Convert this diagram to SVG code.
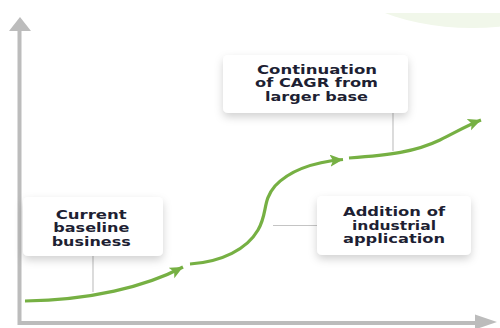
<svg xmlns="http://www.w3.org/2000/svg" width="500" height="328" viewBox="0 0 500 328">
  <defs>
    <style>
      .axis { stroke: #bcbcbc; stroke-width: 4; fill: none; }
      .axis-head { fill: #bcbcbc; }
      .curve { stroke: #76b043; stroke-width: 3.2; fill: none; stroke-linecap: butt; }
      .leader { stroke: #c4c4c4; stroke-width: 1.2; fill: none; }
      .card { fill: #ffffff; filter: url(#cardShadow); }
      .label { font-family: "DejaVu Sans", "Liberation Sans", sans-serif; font-weight: bold; font-size: 12px; fill: #1e1f33; text-anchor: middle; }
    </style>
    <filter id="cardShadow" x="-20%" y="-30%" width="140%" height="170%">
      <feDropShadow dx="0" dy="4" stdDeviation="4" flood-color="#000000" flood-opacity="0.18"/>
    </filter>
    <marker id="greenHead" markerUnits="userSpaceOnUse" markerWidth="16" markerHeight="14" refX="13" refY="6" orient="auto">
      <path d="M0,0 L13,6 L0,12 L3,6 Z" fill="#76b043"/>
    </marker>
    <clipPath id="topClip">
      <rect x="0" y="13" width="500" height="40"/>
    </clipPath>
  </defs>

  <rect width="500" height="328" fill="#ffffff"/>

  <!-- pale backdrop disc at the top right -->
  <ellipse cx="472" cy="-40" rx="139" ry="68" fill="#f1f7ea" clip-path="url(#topClip)"/>

  <!-- axes -->
  <g id="axes">
    <path class="axis" d="M19.5,30 L19.5,323 L476,323"/>
    <polygon class="axis-head" points="20,17 31,31 9,31"/>
    <polygon class="axis-head" points="497,322 475,314.5 475,329.5"/>
  </g>

  <!-- growth curve in three stages -->
  <g id="growth-curve">
    <path class="curve" d="M25,301 C90,300 145,287 183,267" marker-end="url(#greenHead)"/>
    <path class="curve" d="M190,264 C222,262 247,249 258,230 C268,213 262,201 275,186 C290,170 315,162 343,159.5" marker-end="url(#greenHead)"/>
    <path class="curve" d="M349,158 C390,155 415,152 440,140 C458,131 468,125 481,120" marker-end="url(#greenHead)"/>
  </g>

  <!-- leader lines from cards to the curve -->
  <g id="connectors">
    <line class="leader" x1="93" y1="256" x2="93" y2="292"/>
    <line class="leader" x1="393" y1="113" x2="393" y2="151"/>
    <line class="leader" x1="317" y1="225.5" x2="273" y2="225.5"/>
  </g>

  <g id="node-baseline">
    <rect class="card" x="23" y="197" width="140" height="59" rx="5"/>
    <text class="label" x="91.2" y="218.7" textLength="71" lengthAdjust="spacingAndGlyphs">Current</text>
    <text class="label" x="91.3" y="232" textLength="76" lengthAdjust="spacingAndGlyphs">baseline</text>
    <text class="label" x="91.2" y="245.5" textLength="79" lengthAdjust="spacingAndGlyphs">business</text>
  </g>

  <g id="node-cagr">
    <rect class="card" x="223" y="55" width="185" height="58" rx="5"/>
    <text class="label" x="317" y="74" textLength="120" lengthAdjust="spacingAndGlyphs">Continuation</text>
    <text class="label" x="316.5" y="87.3" textLength="123" lengthAdjust="spacingAndGlyphs">of CAGR from</text>
    <text class="label" x="316.5" y="100.5" textLength="103" lengthAdjust="spacingAndGlyphs">larger base</text>
  </g>

  <g id="node-industrial">
    <rect class="card" x="317" y="196" width="154" height="59" rx="5"/>
    <text class="label" x="394" y="216.3" textLength="102" lengthAdjust="spacingAndGlyphs">Addition of</text>
    <text class="label" x="394" y="229.7" textLength="84" lengthAdjust="spacingAndGlyphs">industrial</text>
    <text class="label" x="394" y="243" textLength="102" lengthAdjust="spacingAndGlyphs">application</text>
  </g>
</svg>
